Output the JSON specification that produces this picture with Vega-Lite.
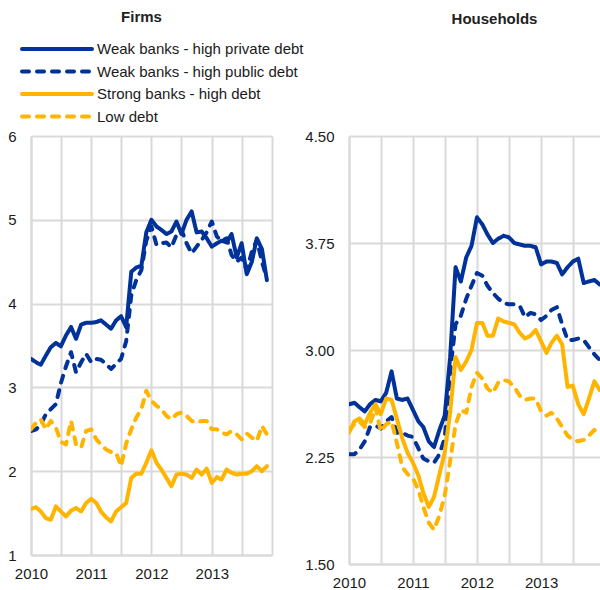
{
  "$schema": "https://vega.github.io/schema/vega-lite/v6.json",
  "background": "white",
  "padding": {"left": 7, "top": 10, "right": 0, "bottom": 0},
  "bounds": "flush",
  "spacing": 77,
  "config": {
    "font": "Liberation Sans",
    "view": {"stroke": null},
    "axis": {"labelFont": "Liberation Sans", "labelFontSize": 15, "labelColor": "#1a1a1a", "gridColor": "#d9d9d9", "gridWidth": 2, "domainColor": "#d9d9d9", "domainWidth": 2, "ticks": false, "title": null},
    "title": {"font": "Liberation Sans", "fontSize": 15, "fontWeight": "bold", "color": "#222222"}
  },
  "datasets": {
    "firms": [
      {"d":"2010/01/01","A":3.34,"B":2.48,"C":1.55,"D":2.50},
      {"d":"2010/02/01","A":3.30,"B":2.50,"C":1.57,"D":2.58},
      {"d":"2010/03/01","A":3.27,"B":2.56,"C":1.52,"D":2.62},
      {"d":"2010/04/01","A":3.38,"B":2.68,"C":1.44,"D":2.50},
      {"d":"2010/05/01","A":3.48,"B":2.74,"C":1.42,"D":2.60},
      {"d":"2010/06/01","A":3.53,"B":2.80,"C":1.58,"D":2.52},
      {"d":"2010/07/01","A":3.49,"B":3.05,"C":1.52,"D":2.35},
      {"d":"2010/08/01","A":3.62,"B":3.25,"C":1.46,"D":2.32},
      {"d":"2010/09/01","A":3.72,"B":3.42,"C":1.53,"D":2.60},
      {"d":"2010/10/01","A":3.58,"B":3.18,"C":1.56,"D":2.32},
      {"d":"2010/11/01","A":3.75,"B":3.30,"C":1.52,"D":2.28},
      {"d":"2010/12/01","A":3.77,"B":3.40,"C":1.62,"D":2.48},
      {"d":"2011/01/01","A":3.77,"B":3.30,"C":1.67,"D":2.50},
      {"d":"2011/02/01","A":3.78,"B":3.34,"C":1.62,"D":2.38},
      {"d":"2011/03/01","A":3.80,"B":3.33,"C":1.52,"D":2.32},
      {"d":"2011/04/01","A":3.75,"B":3.28,"C":1.45,"D":2.26},
      {"d":"2011/05/01","A":3.70,"B":3.22,"C":1.40,"D":2.23},
      {"d":"2011/06/01","A":3.80,"B":3.28,"C":1.52,"D":2.22},
      {"d":"2011/07/01","A":3.85,"B":3.34,"C":1.57,"D":2.06},
      {"d":"2011/08/01","A":3.72,"B":3.55,"C":1.62,"D":2.33},
      {"d":"2011/09/01","A":4.38,"B":4.10,"C":1.92,"D":2.50},
      {"d":"2011/10/01","A":4.43,"B":4.28,"C":1.97,"D":2.64},
      {"d":"2011/11/01","A":4.45,"B":4.40,"C":1.97,"D":2.74},
      {"d":"2011/12/01","A":4.85,"B":4.75,"C":2.10,"D":2.96},
      {"d":"2012/01/01","A":5.00,"B":4.92,"C":2.25,"D":2.84},
      {"d":"2012/02/01","A":4.92,"B":4.70,"C":2.10,"D":2.78},
      {"d":"2012/03/01","A":4.88,"B":4.72,"C":2.02,"D":2.74},
      {"d":"2012/04/01","A":4.83,"B":4.73,"C":1.92,"D":2.66},
      {"d":"2012/05/01","A":4.86,"B":4.67,"C":1.82,"D":2.62},
      {"d":"2012/06/01","A":4.98,"B":4.82,"C":1.96,"D":2.68},
      {"d":"2012/07/01","A":4.83,"B":4.88,"C":1.97,"D":2.70},
      {"d":"2012/08/01","A":5.00,"B":4.72,"C":1.96,"D":2.66},
      {"d":"2012/09/01","A":5.10,"B":4.60,"C":1.92,"D":2.60},
      {"d":"2012/10/01","A":4.85,"B":4.68,"C":2.02,"D":2.58},
      {"d":"2012/11/01","A":4.86,"B":4.76,"C":1.96,"D":2.60},
      {"d":"2012/12/01","A":4.78,"B":4.85,"C":2.03,"D":2.60},
      {"d":"2013/01/01","A":4.68,"B":4.98,"C":1.86,"D":2.50},
      {"d":"2013/02/01","A":4.72,"B":4.80,"C":1.93,"D":2.50},
      {"d":"2013/03/01","A":4.75,"B":4.75,"C":1.90,"D":2.46},
      {"d":"2013/04/01","A":4.73,"B":4.78,"C":2.02,"D":2.44},
      {"d":"2013/05/01","A":4.83,"B":4.58,"C":1.98,"D":2.48},
      {"d":"2013/06/01","A":4.55,"B":4.50,"C":1.96,"D":2.44},
      {"d":"2013/07/01","A":4.72,"B":4.55,"C":1.97,"D":2.38},
      {"d":"2013/08/01","A":4.35,"B":4.40,"C":1.97,"D":2.45},
      {"d":"2013/09/01","A":4.50,"B":4.62,"C":2.00,"D":2.40},
      {"d":"2013/10/01","A":4.78,"B":4.76,"C":2.06,"D":2.36},
      {"d":"2013/11/01","A":4.65,"B":4.50,"C":2.00,"D":2.54},
      {"d":"2013/12/01","A":4.28,"B":4.30,"C":2.06,"D":2.44}
    ],
    "households": [
      {"d":"2010/01/01","A":2.62,"B":2.27,"C":2.42,"D":2.44},
      {"d":"2010/02/01","A":2.63,"B":2.27,"C":2.50,"D":2.48},
      {"d":"2010/03/01","A":2.60,"B":2.30,"C":2.52,"D":2.50},
      {"d":"2010/04/01","A":2.57,"B":2.36,"C":2.48,"D":2.46},
      {"d":"2010/05/01","A":2.62,"B":2.46,"C":2.56,"D":2.48},
      {"d":"2010/06/01","A":2.65,"B":2.47,"C":2.62,"D":2.60},
      {"d":"2010/07/01","A":2.64,"B":2.45,"C":2.55,"D":2.43},
      {"d":"2010/08/01","A":2.70,"B":2.50,"C":2.66,"D":2.48},
      {"d":"2010/09/01","A":2.85,"B":2.53,"C":2.65,"D":2.50},
      {"d":"2010/10/01","A":2.66,"B":2.42,"C":2.52,"D":2.35},
      {"d":"2010/11/01","A":2.65,"B":2.42,"C":2.38,"D":2.18},
      {"d":"2010/12/01","A":2.66,"B":2.40,"C":2.28,"D":2.13},
      {"d":"2011/01/01","A":2.58,"B":2.39,"C":2.21,"D":2.10},
      {"d":"2011/02/01","A":2.50,"B":2.31,"C":2.12,"D":2.02},
      {"d":"2011/03/01","A":2.46,"B":2.24,"C":2.00,"D":1.90},
      {"d":"2011/04/01","A":2.36,"B":2.22,"C":1.90,"D":1.79},
      {"d":"2011/05/01","A":2.32,"B":2.21,"C":1.97,"D":1.74},
      {"d":"2011/06/01","A":2.44,"B":2.27,"C":2.13,"D":1.84},
      {"d":"2011/07/01","A":2.54,"B":2.38,"C":2.28,"D":1.98},
      {"d":"2011/08/01","A":2.95,"B":2.85,"C":2.56,"D":2.22},
      {"d":"2011/09/01","A":3.58,"B":3.18,"C":2.95,"D":2.48},
      {"d":"2011/10/01","A":3.48,"B":3.24,"C":2.86,"D":2.58},
      {"d":"2011/11/01","A":3.65,"B":3.36,"C":2.92,"D":2.56},
      {"d":"2011/12/01","A":3.73,"B":3.45,"C":3.00,"D":2.74},
      {"d":"2012/01/01","A":3.93,"B":3.54,"C":3.19,"D":2.84},
      {"d":"2012/02/01","A":3.88,"B":3.52,"C":3.19,"D":2.80},
      {"d":"2012/03/01","A":3.81,"B":3.45,"C":3.10,"D":2.73},
      {"d":"2012/04/01","A":3.75,"B":3.40,"C":3.10,"D":2.70},
      {"d":"2012/05/01","A":3.78,"B":3.36,"C":3.22,"D":2.77},
      {"d":"2012/06/01","A":3.80,"B":3.33,"C":3.20,"D":2.79},
      {"d":"2012/07/01","A":3.79,"B":3.32,"C":3.19,"D":2.78},
      {"d":"2012/08/01","A":3.75,"B":3.32,"C":3.18,"D":2.74},
      {"d":"2012/09/01","A":3.74,"B":3.31,"C":3.12,"D":2.68},
      {"d":"2012/10/01","A":3.73,"B":3.23,"C":3.08,"D":2.65},
      {"d":"2012/11/01","A":3.73,"B":3.26,"C":3.10,"D":2.66},
      {"d":"2012/12/01","A":3.72,"B":3.25,"C":3.14,"D":2.66},
      {"d":"2013/01/01","A":3.60,"B":3.21,"C":3.06,"D":2.57},
      {"d":"2013/02/01","A":3.62,"B":3.24,"C":2.98,"D":2.54},
      {"d":"2013/03/01","A":3.62,"B":3.28,"C":3.05,"D":2.56},
      {"d":"2013/04/01","A":3.61,"B":3.30,"C":3.10,"D":2.52},
      {"d":"2013/05/01","A":3.53,"B":3.18,"C":3.04,"D":2.46},
      {"d":"2013/06/01","A":3.58,"B":3.07,"C":2.74,"D":2.40},
      {"d":"2013/07/01","A":3.62,"B":3.07,"C":2.75,"D":2.37},
      {"d":"2013/08/01","A":3.64,"B":3.08,"C":2.62,"D":2.36},
      {"d":"2013/09/01","A":3.47,"B":3.07,"C":2.55,"D":2.37},
      {"d":"2013/10/01","A":3.48,"B":3.02,"C":2.66,"D":2.40},
      {"d":"2013/11/01","A":3.49,"B":2.97,"C":2.78,"D":2.44},
      {"d":"2013/12/01","A":3.46,"B":2.93,"C":2.72,"D":2.40}
    ]
  },
  "resolve": {
    "scale": {"x": "independent", "y": "independent", "color": "independent", "strokeDash": "independent"},
    "legend": {"color": "independent", "strokeDash": "independent"}
  },
  "hconcat": [
    {
      "width": 241,
      "height": 419,
      "title": {"text": "Firms", "anchor": "middle", "frame": "group", "dx": -10, "offset": 15},
      "data": {"name": "firms"},
      "transform": [{"fold": ["A", "B", "C", "D"], "as": ["s", "v"]}],
      "mark": {"type": "line", "strokeWidth": 4, "strokeJoin": "round", "strokeCap": "round", "clip": true},
      "encoding": {
        "x": {
          "field": "d", "type": "temporal",
          "scale": {"domain": [{"year": 2010, "month": 1, "date": 1}, {"year": 2014, "month": 1, "date": 1}]},
          "axis": {
            "values": [{"year": 2010, "month": 1, "date": 1}, {"year": 2010, "month": 7, "date": 1}, {"year": 2011, "month": 1, "date": 1}, {"year": 2011, "month": 7, "date": 1}, {"year": 2012, "month": 1, "date": 1}, {"year": 2012, "month": 7, "date": 1}, {"year": 2013, "month": 1, "date": 1}, {"year": 2013, "month": 7, "date": 1}, {"year": 2014, "month": 1, "date": 1}],
            "labelExpr": "month(datum.value) == 0 && year(datum.value) < 2014 ? timeFormat(datum.value, '%Y') : ''",
            "labelPadding": 11, "labelFlush": false, "labelOverlap": false
          }
        },
        "y": {
          "field": "v", "type": "quantitative",
          "scale": {"domain": [1, 6], "nice": false, "zero": false},
          "axis": {"values": [1, 2, 3, 4, 5, 6], "labelPadding": 15}
        },
        "color": {
          "field": "s", "type": "nominal",
          "scale": {"domain": ["A", "B", "C", "D"], "range": ["#003299", "#003299", "#ffb400", "#ffb400"]},
          "legend": {
            "orient": "none", "legendX": -11, "legendY": -96, "title": null, "padding": 0,
            "direction": "vertical", "symbolType": "stroke", "symbolSize": 4900, "symbolStrokeWidth": 4,
            "clipHeight": 18, "rowPadding": 4.5, "labelOffset": 3, "labelLimit": 400, "labelFontSize": 15, "labelFont": "Liberation Sans", "labelColor": "#1a1a1a",
            "labelExpr": "{'A': 'Weak banks - high private debt', 'B': 'Weak banks - high public debt', 'C': 'Strong banks - high debt', 'D': 'Low debt'}[datum.label]",
            "encode": {"symbols": {"update": {"strokeCap": {"value": "round"}}}}
          }
        },
        "strokeDash": {
          "field": "s", "type": "nominal",
          "scale": {"domain": ["A", "B", "C", "D"], "range": [[1, 0], [7, 8], [1, 0], [7, 8]]},
          "legend": {
            "orient": "none", "legendX": -11, "legendY": -96, "title": null, "padding": 0,
            "direction": "vertical", "symbolType": "stroke", "symbolSize": 4900, "symbolStrokeWidth": 4,
            "clipHeight": 18, "rowPadding": 4.5, "labelOffset": 3, "labelLimit": 400, "labelFontSize": 15, "labelFont": "Liberation Sans", "labelColor": "#1a1a1a",
            "labelExpr": "{'A': 'Weak banks - high private debt', 'B': 'Weak banks - high public debt', 'C': 'Strong banks - high debt', 'D': 'Low debt'}[datum.label]",
            "encode": {"symbols": {"update": {"strokeCap": {"value": "round"}}}}
          }
        }
      }
    },
    {
      "width": 251,
      "height": 428,
      "title": {"text": "Households", "anchor": "middle", "frame": "group", "dx": 20, "offset": 102},
      "data": {"name": "households"},
      "transform": [{"fold": ["A", "B", "C", "D"], "as": ["s", "v"]}],
      "mark": {"type": "line", "strokeWidth": 4, "strokeJoin": "round", "strokeCap": "round", "clip": true},
      "encoding": {
        "x": {
          "field": "d", "type": "temporal",
          "scale": {"domain": [{"year": 2010, "month": 1, "date": 1}, {"year": 2013, "month": 12, "date": 3}]},
          "axis": {
            "values": [{"year": 2010, "month": 1, "date": 1}, {"year": 2010, "month": 7, "date": 1}, {"year": 2011, "month": 1, "date": 1}, {"year": 2011, "month": 7, "date": 1}, {"year": 2012, "month": 1, "date": 1}, {"year": 2012, "month": 7, "date": 1}, {"year": 2013, "month": 1, "date": 1}, {"year": 2013, "month": 7, "date": 1}],
            "labelExpr": "month(datum.value) == 0 ? timeFormat(datum.value, '%Y') : ''",
            "labelPadding": 11, "labelFlush": false, "labelOverlap": false
          }
        },
        "y": {
          "field": "v", "type": "quantitative",
          "scale": {"domain": [1.5, 4.5], "nice": false, "zero": false},
          "axis": {"values": [1.5, 2.25, 3, 3.75, 4.5], "format": ".2f", "labelPadding": 15}
        },
        "color": {
          "field": "s", "type": "nominal",
          "scale": {"domain": ["A", "B", "C", "D"], "range": ["#003299", "#003299", "#ffb400", "#ffb400"]},
          "legend": null
        },
        "strokeDash": {
          "field": "s", "type": "nominal",
          "scale": {"domain": ["A", "B", "C", "D"], "range": [[1, 0], [7, 8], [1, 0], [7, 8]]},
          "legend": null
        }
      }
    }
  ]
}
